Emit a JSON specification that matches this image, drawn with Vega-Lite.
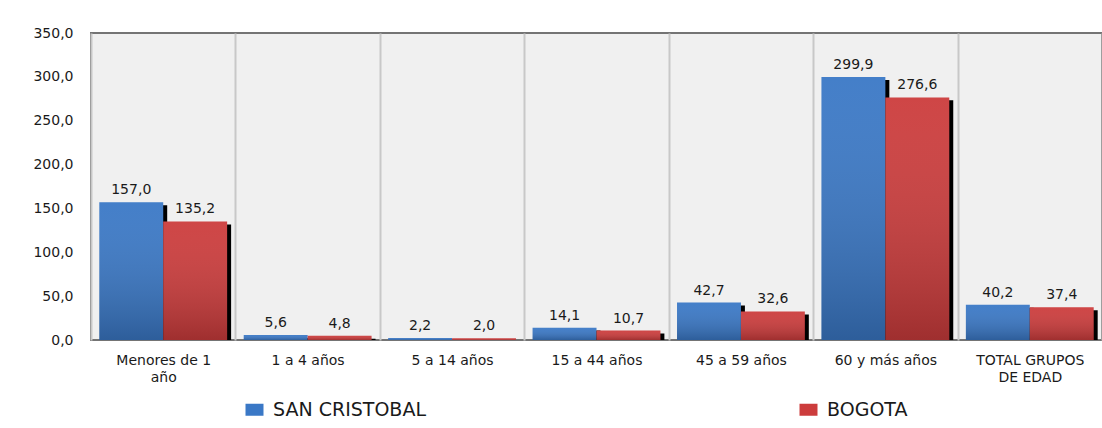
{
  "$schema": "https://vega.github.io/schema/vega-lite/v6.json",
  "width": 1011,
  "height": 307,
  "autosize": {"type": "none"},
  "padding": {"left": 91, "top": 33, "right": 0, "bottom": 88},
  "background": "white",
  "config": {
    "locale": {"number": {"decimal": ",", "thousands": ".", "grouping": [3], "currency": ["$", ""]}},
    "font": "DejaVu Sans",
    "view": {"fill": "#f0f0f0", "stroke": "#747474", "strokeWidth": 2}
  },
  "data": {
    "values": [
      {"grupo": "Menores de 1 año", "serie": "SAN CRISTOBAL", "valor": 157.0},
      {"grupo": "Menores de 1 año", "serie": "BOGOTA", "valor": 135.2},
      {"grupo": "1 a 4 años", "serie": "SAN CRISTOBAL", "valor": 5.6},
      {"grupo": "1 a 4 años", "serie": "BOGOTA", "valor": 4.8},
      {"grupo": "5 a 14 años", "serie": "SAN CRISTOBAL", "valor": 2.2},
      {"grupo": "5 a 14 años", "serie": "BOGOTA", "valor": 2.0},
      {"grupo": "15 a 44 años", "serie": "SAN CRISTOBAL", "valor": 14.1},
      {"grupo": "15 a 44 años", "serie": "BOGOTA", "valor": 10.7},
      {"grupo": "45 a 59 años", "serie": "SAN CRISTOBAL", "valor": 42.7},
      {"grupo": "45 a 59 años", "serie": "BOGOTA", "valor": 32.6},
      {"grupo": "60 y más años", "serie": "SAN CRISTOBAL", "valor": 299.9},
      {"grupo": "60 y más años", "serie": "BOGOTA", "valor": 276.6},
      {"grupo": "TOTAL GRUPOS DE EDAD", "serie": "SAN CRISTOBAL", "valor": 40.2},
      {"grupo": "TOTAL GRUPOS DE EDAD", "serie": "BOGOTA", "valor": 37.4}
    ]
  },
  "encoding": {
    "x": {
      "field": "grupo",
      "type": "nominal",
      "sort": ["Menores de 1 año", "1 a 4 años", "5 a 14 años", "15 a 44 años", "45 a 59 años", "60 y más años", "TOTAL GRUPOS DE EDAD"],
      "scale": {"paddingInner": 0, "paddingOuter": 0},
      "axis": {
        "title": null,
        "labelAngle": 0,
        "labelFontSize": 14,
        "labelColor": "#1a1a1a",
        "ticks": false,
        "domain": false,
        "grid": true,
        "tickBand": "extent",
        "gridColor": "#c8c8c8",
        "gridWidth": 2,
        "labelPadding": 13,
        "labelLineHeight": 17,
        "labelExpr": "datum.label == 'Menores de 1 año' ? ['Menores de 1', 'año'] : datum.label == 'TOTAL GRUPOS DE EDAD' ? ['TOTAL GRUPOS', 'DE EDAD'] : datum.label"
      }
    }
  },
  "resolve": {"scale": {"xOffset": "independent", "y": "independent"}, "axis": {"y": "independent"}},
  "layer": [
    {
      "mark": {"type": "bar", "color": "black", "clip": true},
      "encoding": {
        "xOffset": {
          "field": "serie",
          "type": "nominal",
          "sort": ["SAN CRISTOBAL", "BOGOTA"],
          "scale": {"paddingOuter": 0.13, "paddingInner": 0, "align": 0.74}
        },
        "y": {
          "field": "valor",
          "type": "quantitative",
          "scale": {"domain": [3.4, 353.4], "nice": false, "zero": false},
          "axis": null
        }
      }
    },
    {
      "encoding": {
        "xOffset": {
          "field": "serie",
          "type": "nominal",
          "sort": ["SAN CRISTOBAL", "BOGOTA"],
          "scale": {"paddingOuter": 0.13, "paddingInner": 0}
        },
        "y": {
          "field": "valor",
          "type": "quantitative",
          "scale": {"domain": [0, 350], "nice": false},
          "axis": {
            "title": null,
            "values": [0, 50, 100, 150, 200, 250, 300, 350],
            "format": ".1f",
            "labelFontSize": 14,
            "labelColor": "#1a1a1a",
            "ticks": false,
            "domain": false,
            "labelPadding": 18,
            "gridColor": "#c8c8c8",
            "gridWidth": 1
          }
        }
      },
      "layer": [
        {
          "mark": {"type": "bar"},
          "encoding": {
            "color": {
              "field": "serie",
              "type": "nominal",
              "sort": ["SAN CRISTOBAL", "BOGOTA"],
              "scale": {"domain": ["SAN CRISTOBAL", "BOGOTA"], "range": ["#3a78c6", "#cc3c3c"]},
              "legend": {
                "title": null,
                "orient": "none",
                "legendX": 154,
                "legendY": 367,
                "direction": "horizontal",
                "labelFontSize": 19,
                "labelColor": "#1a1a1a",
                "symbolType": "M-1,-0.667H1V0.667H-1Z",
                "symbolSize": 324,
                "symbolStrokeWidth": 0,
                "labelOffset": 9,
                "columnPadding": 373
              }
            }
          }
        },
        {
          "mark": {
            "type": "bar",
            "fill": {
              "gradient": "linear",
              "x1": 0, "y1": 0, "x2": 0, "y2": 1,
              "stops": [
                {"offset": 0, "color": "rgba(255,255,255,0.05)"},
                {"offset": 1, "color": "rgba(0,0,0,0.22)"}
              ]
            }
          }
        },
        {
          "mark": {"type": "text", "dy": -8, "fontSize": 14, "color": "#1a1a1a", "baseline": "alphabetic"},
          "encoding": {
            "text": {"field": "valor", "type": "quantitative", "format": ".1f"}
          }
        }
      ]
    }
  ]
}
